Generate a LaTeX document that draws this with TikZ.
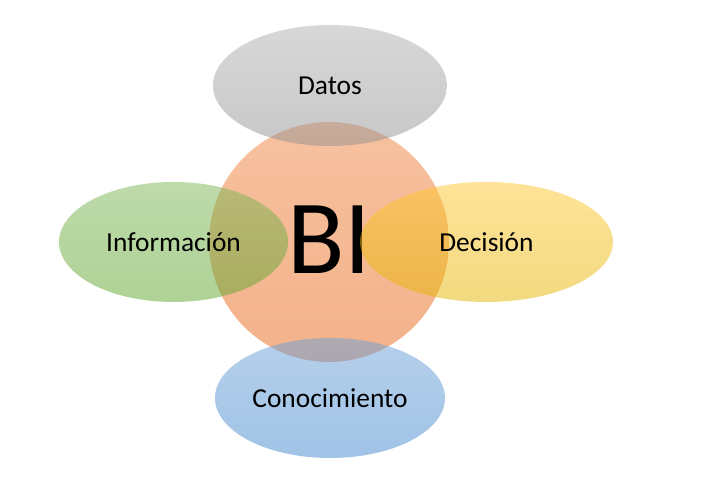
\documentclass[tikz,border=0pt]{standalone}
\usepackage{fontspec}
\setmainfont{Carlito}
\usetikzlibrary{shapes.geometric}

\definecolor{bitop}{RGB}{239,131,65}
\definecolor{bibot}{RGB}{231,101,21}
\definecolor{graytop}{RGB}{177,177,177}
\definecolor{graybot}{RGB}{145,145,145}
\definecolor{greentop}{RGB}{125,183,85}
\definecolor{greenbot}{RGB}{95,165,45}
\definecolor{yellowtop}{RGB}{255,199,49}
\definecolor{yellowbot}{RGB}{229,181,0}
\definecolor{bluetop}{RGB}{109,161,217}
\definecolor{bluebot}{RGB}{65,135,205}

\tikzset{
  bubble/.style={ellipse, inner sep=0pt, fill opacity=0.5, text opacity=1,
    font=\fontsize{7.8}{9}\selectfont},
}

\begin{document}
\begin{tikzpicture}
\useasboundingbox (0,0) rectangle (7.09,-4.89);

\draw (3.29,-2.42) node (bi) [circle, inner sep=0pt, minimum size=2.40cm, top color=bitop, bottom color=bibot, fill opacity=0.5, text opacity=1, font=\fontsize{30}{31}\selectfont] {\raisebox{0.04cm}{BI}};

\draw (3.30,-0.855) node (datos) [bubble, minimum width=2.34cm, minimum height=1.21cm, top color=graytop, bottom color=graybot] {Datos};

\draw (1.735,-2.42) node (info) [bubble, minimum width=2.29cm, minimum height=1.20cm, top color=greentop, bottom color=greenbot] {Información};

\draw (4.865,-2.42) node (decision) [bubble, minimum width=2.53cm, minimum height=1.20cm, top color=yellowtop, bottom color=yellowbot] {Decisión};

\draw (3.30,-3.98) node (conoc) [bubble, minimum width=2.30cm, minimum height=1.20cm, top color=bluetop, bottom color=bluebot] {Conocimiento};
\end{tikzpicture}
\end{document}
